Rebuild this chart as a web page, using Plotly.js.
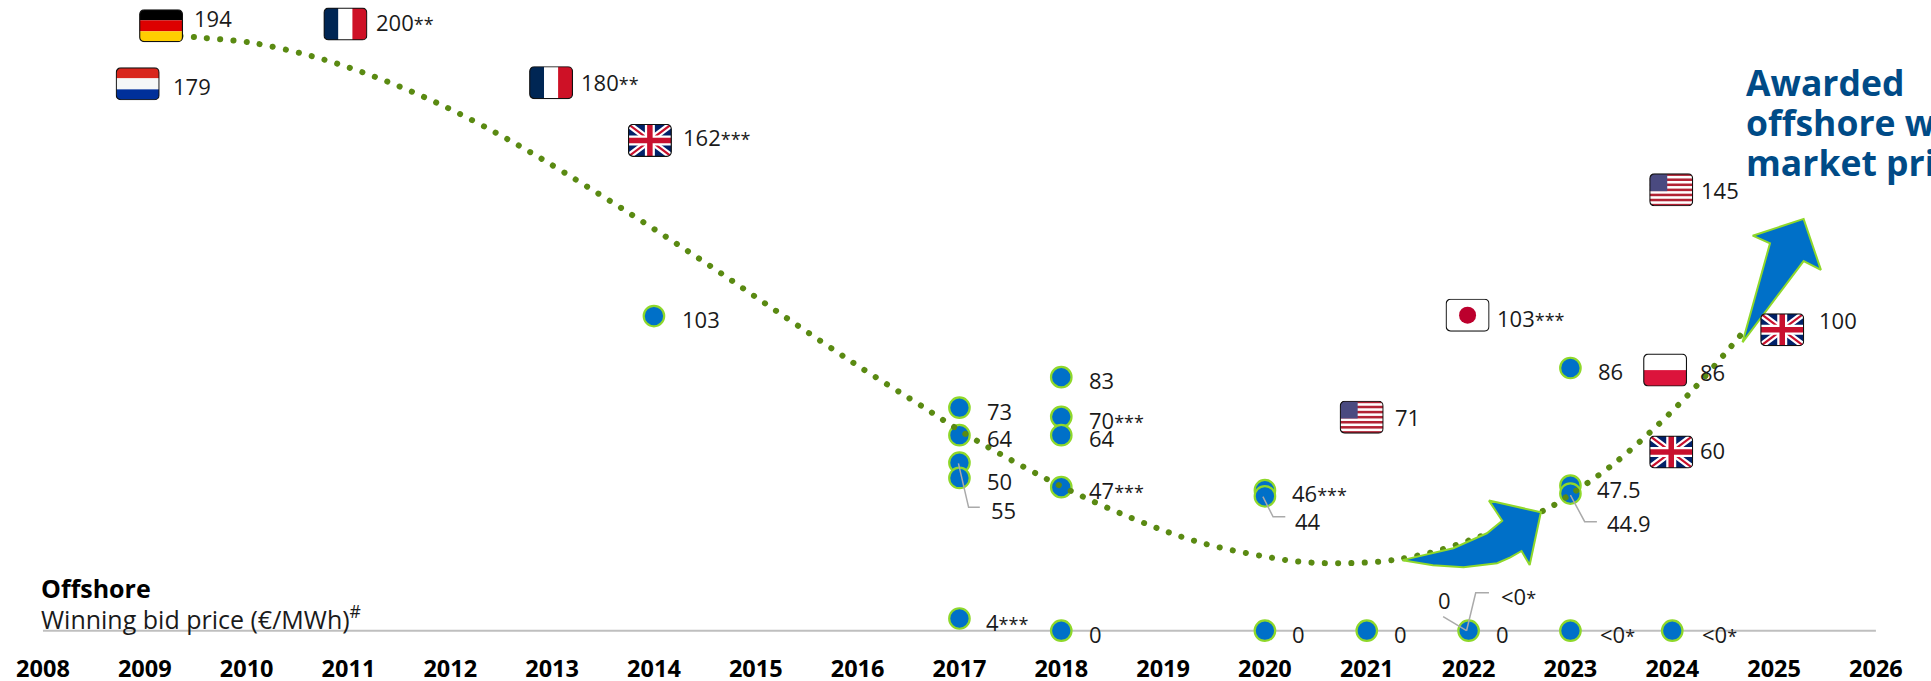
<!DOCTYPE html>
<html><head><meta charset="utf-8">
<script src="https://cdn.plot.ly/plotly-3.0.1.min.js"></script>
<style>
html,body{margin:0;padding:0;background:#fff;overflow:hidden}
#chart{width:1931px;height:681px}
.trendline .js-line{stroke-linecap:round}
</style></head><body><div id="chart"></div>
<script>
// Winning bids drawn as circles: year, price
const bidYears  = [2014,2017,2017,2017,2017,2017,2018,2018,2018,2018,2018,2020,2020,2020,2021,2022,2023,2023,2023,2023,2024];
const bidPrices = [103,73,64,55,50,4,83,70,64,47,0,46,44,0,0,0,86,47.5,44.9,0,0];

// Text labels: text, year position, price level
const labelTexts = ['194','200**','179','180**','162***','145','103***','100','103','73','64','50','55','83','70***','64','47***','46***','44','71','86','86','60','47.5','44.9','0','0','0','0','0','&lt;0*','&lt;0*','&lt;0*','4***'];
const labelYears = [2009.48,2011.27,2009.28,2013.28,2014.29,2024.28,2022.28,2025.44,2014.28,2017.27,2017.27,2017.27,2017.31,2018.27,2018.27,2018.27,2018.27,2020.27,2020.30,2021.28,2023.27,2024.27,2024.27,2023.26,2023.36,2018.27,2020.27,2021.27,2022.27,2021.70,2022.32,2023.29,2024.29,2017.26];
const labelLevels = [200.1,198.8,178.1,179.2,161.3,144.0,102.0,101.5,101.7,71.6,62.8,48.7,39.2,81.7,68.7,62.8,45.8,44.7,35.7,69.6,84.8,84.5,58.9,46.1,34.9,-1.4,-1.4,-1.4,-1.4,9.7,11.0,-1.4,-1.4,2.5];

// Flags: country, year position, price level
const flagCountries = ['DE','FR','NL','FR','UK','US','JP','UK','US','UK','PL'];
const flagYears  = [2009.16,2010.97,2008.93,2012.99,2013.96,2023.99,2021.99,2025.08,2020.95,2023.99,2023.93];
const flagLevels = [198.0,198.6,179.0,179.4,160.5,144.3,103.3,98.5,69.9,58.5,85.3];

// Dotted trend curve
const trendYears  = [2009.35,2009.52,2010.04,2010.68,2011.30,2011.90,2012.48,2012.93,2013.71,2014.48,2015.23,2015.99,2016.65,2016.98,2017.43,2018.01,2018.72,2019.34,2019.98,2020.37,2020.76,2021.15,2021.41,2021.78,2022.76,2022.98,2023.09,2023.41,2023.80,2024.17,2024.52,2024.69];
const trendLevels = [194.7,194.2,192.5,187.7,180.8,172.3,162.4,153.8,137.7,121.0,104.0,87.0,73.1,66.0,57.3,47.1,36.5,29.1,24.4,22.5,22.1,22.7,24.0,27.0,39.7,44.2,46.6,54.2,65.5,77.7,90.8,97.5];

// Arrow outlines
const arrowAYears  = [2021.35,2021.85,2022.18,2022.33,2022.20,2022.71,2022.60,2022.52,2022.41,2022.28,2021.95,2021.65,2021.35];
const arrowALevels = [23.1,27.0,31.9,36.0,42.6,38.8,21.5,26.1,24.0,22.1,20.8,21.4,23.1];
const arrowBYears  = [2024.69,2025.29,2025.46,2025.29,2024.79,2024.96,2024.69];
const arrowBLevels = [94.4,121.0,118.1,134.8,129.3,126.8,94.4];

// Leader lines
const leaderYears  = [[2016.99,2017.09,2017.20],[2019.98,2020.08,2020.20],[2023.00,2023.14,2023.26],[2021.98,2021.75],[2021.98,2022.07,2022.20]];
const leaderLevels = [[54.8,40.4,40.4],[43.9,37.3,37.3],[44.4,35.7,35.7],[0,4.6],[0,12.4,12.4]];

const tickYears = [2008,2009,2010,2011,2012,2013,2014,2015,2016,2017,2018,2019,2020,2021,2022,2023,2024,2025,2026];
const titleLines = ['Awarded','offshore wind','market price'];
const titleLevels = [179.6,166.5,153.4];

const FONT = '"Open Sans", "Noto Sans", sans-serif';
const TEXT = '#1a1a1a';
const FONT_SIZE = 22;

function flagSvg(c){
  let b='';
  if(c==='DE') b='<rect width="44" height="11" fill="#000"/><rect y="11" width="44" height="11" fill="#DD0000"/><rect y="22" width="44" height="11" fill="#FFCE00"/>';
  if(c==='FR') b='<rect width="15" height="33" fill="#002654"/><rect x="15" width="14" height="33" fill="#fff"/><rect x="29" width="15" height="33" fill="#CE1126"/>';
  if(c==='NL') b='<rect width="44" height="11" fill="#D9261C"/><rect y="11" width="44" height="11" fill="#F5F7F7"/><rect y="22" width="44" height="11" fill="#00309A"/>';
  if(c==='PL') b='<rect width="44" height="16.5" fill="#fff"/><rect y="16.5" width="44" height="16.5" fill="#DC143C"/>';
  if(c==='JP') b='<rect width="44" height="33" fill="#fff"/><circle cx="22" cy="16.5" r="8.5" fill="#BC002D"/>';
  if(c==='UK') b='<rect width="44" height="33" fill="#012169"/><path d="M0 0L44 33M44 0L0 33" stroke="#fff" stroke-width="6.5"/><path d="M0 0L44 33M44 0L0 33" stroke="#C8102E" stroke-width="2.2"/><path d="M22 0V33M0 16.5H44" stroke="#fff" stroke-width="10"/><path d="M22 0V33M0 16.5H44" stroke="#C8102E" stroke-width="5.5"/>';
  if(c==='US'){
    b='<rect width="44" height="33" fill="#fff"/>';
    for(let i=0;i<13;i+=2) b+='<rect y="'+(i*33/13)+'" width="44" height="'+(33/13)+'" fill="#B22234"/>';
    b+='<rect width="18" height="17.8" fill="#4A4A80"/>';
  }
  const svg='<svg xmlns="http://www.w3.org/2000/svg" width="176" height="132" viewBox="0 0 44 33"><defs><clipPath id="r"><rect x="0.6" y="0.6" width="42.8" height="31.8" rx="4.5"/></clipPath></defs><g clip-path="url(#r)">'+b+'</g><rect x="0.6" y="0.6" width="42.8" height="31.8" rx="4.5" fill="none" stroke="#111" stroke-width="1.2"/></svg>';
  return 'data:image/svg+xml;charset=utf-8,'+encodeURIComponent(svg);
}

const traces = [];
traces.push({x:[2008,2026],y:[0,0],mode:'lines',line:{color:'#BFBFBF',width:2},hoverinfo:'skip',cliponaxis:false,showlegend:false});
bidYears.forEach((y,i)=>traces.push({x:[y],y:[bidPrices[i]],mode:'markers',marker:{size:20.5,color:'#0070C8',line:{color:'#8FD82A',width:2.2}},hoverinfo:'skip',cliponaxis:false,showlegend:false}));
traces.push({x:trendYears,y:trendLevels,mode:'lines',line:{color:'#5A8A12',width:6,shape:'spline',smoothing:1,dash:'0.1px,13.2px'},hoverinfo:'skip',cliponaxis:false,showlegend:false,name:'trend'});
[[arrowAYears,arrowALevels],[arrowBYears,arrowBLevels]].forEach(a=>traces.push({x:a[0],y:a[1],mode:'lines',fill:'toself',fillcolor:'#0070C8',line:{color:'#8FD82A',width:2},hoverinfo:'skip',cliponaxis:false,showlegend:false}));
leaderYears.forEach((xs,i)=>traces.push({x:xs,y:leaderLevels[i],mode:'lines',line:{color:'#AAAAAA',width:1.5},hoverinfo:'skip',cliponaxis:false,showlegend:false}));

const starred = t => t.replace(/\*+/, m => '<span style="font-size:18px">'+m+'</span>');
const annotations = labelTexts.map((t,i)=>({x:labelYears[i],y:labelLevels[i],yshift:1,text:starred(t),showarrow:false,xanchor:'left',yanchor:'middle',borderpad:0,borderwidth:0,font:{family:FONT,size:FONT_SIZE,color:TEXT}}));
titleLines.forEach((t,i)=>annotations.push({x:2024.715,y:titleLevels[i],text:t,showarrow:false,xanchor:'left',yanchor:'middle',borderpad:0,font:{family:FONT,size:35.5,color:'#004B87',weight:700}}));
annotations.push({x:2007.97,y:14,text:'<b>Offshore</b>',showarrow:false,xanchor:'left',yanchor:'middle',borderpad:0,font:{family:FONT,size:25,color:'#000'}});
annotations.push({x:2007.97,y:4.2,text:'Winning bid price (€/MWh)<sup>#</sup>',showarrow:false,xanchor:'left',yanchor:'middle',borderpad:0,font:{family:FONT,size:25,color:TEXT}});

const images = flagCountries.map((c,i)=>({source:flagSvg(c),xref:'x',yref:'y',x:flagYears[i],y:flagLevels[i],sizex:44/101.83,sizey:33/3.055,xanchor:'center',yanchor:'middle',sizing:'stretch',layer:'above'}));

Plotly.newPlot('chart',traces,{
  width:1931,height:681,paper_bgcolor:'#fff',plot_bgcolor:'#fff',showlegend:false,
  margin:{l:0,r:0,t:0,b:35.03,pad:0},
  xaxis:{range:[2007.578,2026.541],tickvals:tickYears,ticktext:tickYears.map(String),showgrid:false,zeroline:false,showline:false,ticks:'',ticklabelstandoff:6,tickfont:{family:FONT,size:23.5,color:'#000',weight:700},automargin:false},
  yaxis:{range:[-5,206.45],visible:false},
  annotations,images
},{staticPlot:true,displayModeBar:false}).then(()=>{
  document.querySelectorAll('.scatterlayer .trace').forEach((g,i)=>{ if(i===bidYears.length+1) g.classList.add('trendline'); });
});
</script></body></html>
